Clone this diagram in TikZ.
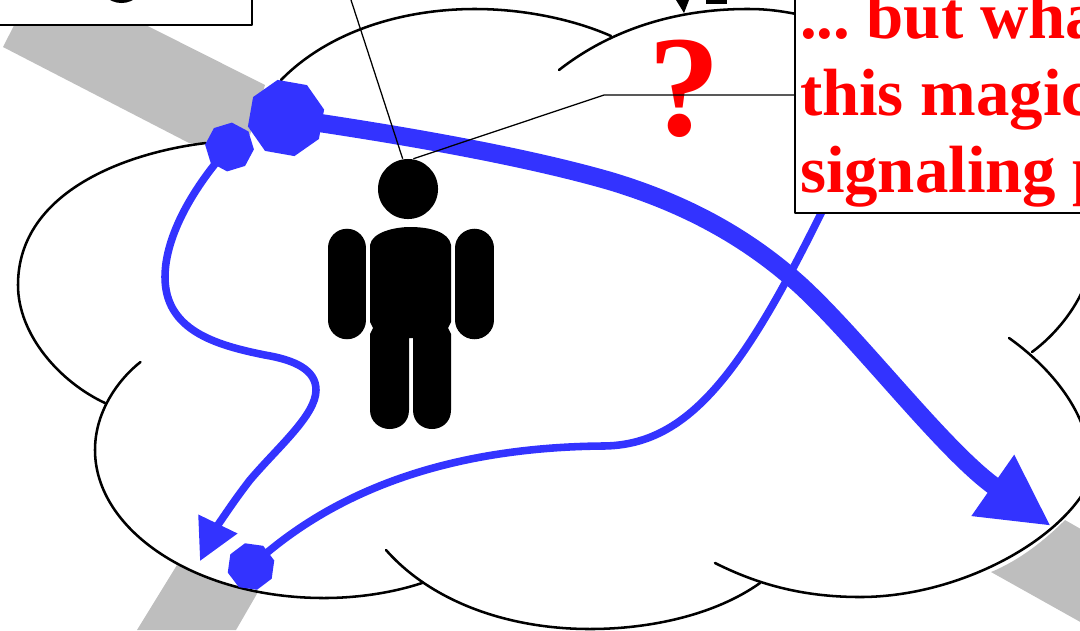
\documentclass[tikz,border=0pt]{standalone}
\usepackage{fontspec}
\setmainfont{Liberation Serif}
\usetikzlibrary{arrows.meta,positioning,shapes.geometric}
\definecolor{flowblue}{HTML}{3333FF}
\definecolor{beamgray}{HTML}{BEBEBE}
\tikzset{
  every picture/.append style={line join=round},
  cloud line/.style={black,line width=0.72pt,line cap=round},
  pointer line/.style={black,line width=0.36pt},
  beam/.style={fill=beamgray},
  flow thick/.style={flowblue,line width=5.2pt,-{Triangle[length=20.2pt,width=19.7pt]}},
  flow thin/.style={flowblue,line width=2.15pt},
  flow port/.style={regular polygon,regular polygon sides=8,fill=flowblue,inner sep=0pt,outer sep=0pt},
  label box/.style={draw=black,line width=0.45pt,fill=white,outer sep=0pt},
  note text/.style={text=red,font=\bfseries\frenchspacing\fontsize{19}{21.9}\selectfont,align=left},
  limb/.style={black,line width=0.385cm,line cap=round}
}

\begin{document}
\begin{tikzpicture}[x=0.01cm,y=-0.01cm]
  \clip (0,0) rectangle (1080,630);
  \fill[beam] (3,47)--(27,0)--(96,0)--(265,85)--(250,135)--(206,143)--(189,143)--cycle;
  \fill[beam] (177,565) .. controls (203,578) and (230,586) .. (258,592)--(236,630)--(137,630)--cycle;
  \fill[beam] (991,572) .. controls (1020,560) and (1045,540) .. (1065,520)--(1100,540)--(1100,633)--cycle;

  \draw[cloud line] (206,143) .. controls (130,152) and (18,190) .. (18,285)
    .. controls (18,335) and (60,382) .. (105,403);
  \draw[cloud line] (140.5,362) .. controls (120,378) and (95,410) .. (95,450)
    .. controls (95,530) and (195,598) .. (324,598) .. controls (360,598) and (395,592) .. (422,583);
  \draw[cloud line] (386,550) .. controls (430,600) and (505,629) .. (590,629)
    .. controls (650,629) and (715,615) .. (760,583);
  \draw[cloud line] (715,563) .. controls (755,583) and (800,597) .. (860,597)
    .. controls (950,597) and (1045,550) .. (1082,495) .. controls (1105,450) and (1075,385) .. (1009,338);
  \draw[cloud line] (1032,352) .. controls (1055,335) and (1075,310) .. (1085,285);
  \draw[cloud line] (281,80) .. controls (330,30) and (405,9) .. (475,9)
    .. controls (525,9) and (575,20) .. (611,36);
  \draw[cloud line] (559,70) .. controls (610,30) and (675,9) .. (747,9)
    .. controls (765,9) and (785,10) .. (830,22);

  \node[flow port,minimum size=0.78cm,shape border rotate=-10] (portbig) at (286,118) {};
  \node[flow port,minimum size=0.49cm,shape border rotate=17] (portleft) at (229.5,147) {};
  \node[flow port,minimum size=0.48cm,shape border rotate=-8] (portlow) at (251,566.5) {};
  \coordinate (thicktip) at (1051,526);
  \coordinate (lefttip) at (200,561);
  \coordinate (lowend) at (830,195);

  \draw[flow thin] (portlow.center) .. controls (300,522) and (400,448) .. (602,446)
    .. controls (690,446) and (745,370) .. (lowend);
  \draw[flow thick] (portbig.center) .. controls (390,133) and (520,155) .. (610,181)
    .. controls (690,205) and (750,240) .. (800,285)
    .. controls (860,340) and (945,452) .. (thicktip);
  \draw[flow thin,-{Triangle[length=11.7pt,width=11.8pt]}] (portleft.center) .. controls (195,185) and (165,235) .. (165,277)
    .. controls (165,330) and (215,345) .. (265,355)
    .. controls (295,360) and (316,370) .. (316,390)
    .. controls (316,415) and (278,447) .. (250,480)
    .. controls (232,503) and (215,530) .. (lefttip);

  \node[circle,fill=black,inner sep=0pt,minimum size=0.6cm] (head) at (408,189) {};
  \fill (370,245) .. controls (372,232) and (395,227) .. (410,227)
    .. controls (430,227) and (449,232) .. (451,245)--(451,322)--(448,328)--(451,334)--(451,410)
    .. controls (451,422) and (442,429) .. (432,429) .. controls (422,429) and (413,422) .. (413,410)
    --(413,338)--(409,338)--(409,410)
    .. controls (409,422) and (400,429) .. (389.5,429) .. controls (380,429) and (370,422) .. (370,410)
    --(370,334)--(373,328)--(370,322)--cycle;
  \draw[limb] (347,248)--(347,320);
  \draw[limb] (474.5,248)--(474.5,320);

  \node[text=red,font=\bfseries\fontsize{41}{41}\selectfont,anchor=base,inner sep=0pt] (query) at (684.6,135) {?};
  \fill (676,0)--(689,0)--(684,13)--cycle;
  \fill (706,0) rectangle (727,4);

  \node[label box,anchor=south east,minimum width=3cm,minimum height=0.7cm] (cornerbox) at (252,25) {};
  \fill (121.5,-20.5) circle (23.5);

  \node[label box,note text,anchor=south west,inner xsep=0.05cm,inner ysep=0.06cm] (whatbox) at (795,213)
    {... but wha\\this magic\\signaling p};
  \coordinate (pointtop) at (351,0);
  \coordinate (elbow) at (604,95);
  \draw[pointer line] (pointtop)--(head.100);
  \draw[pointer line] (head.80)--(elbow)--(whatbox.west |- elbow);
\end{tikzpicture}
\end{document}
